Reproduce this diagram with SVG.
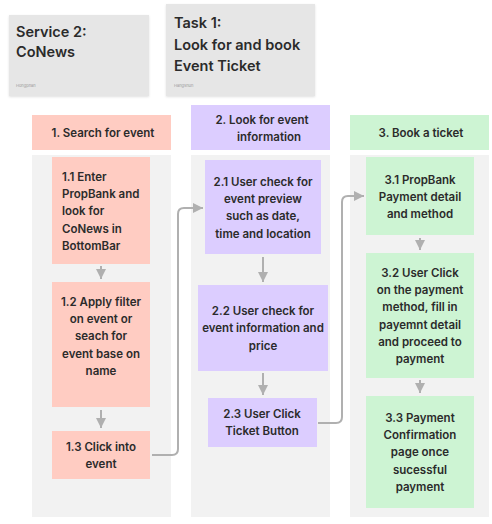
<svg xmlns="http://www.w3.org/2000/svg" width="492" height="524" viewBox="0 0 492 524">
<defs>
<style>
.t{font-family:Inter,"Noto Sans",sans-serif;font-weight:600;font-size:11.5px;fill:#2b2b2b}
.c{text-anchor:middle}
.h{font-family:Inter,"Noto Sans",sans-serif;font-weight:600;font-size:14.5px;fill:#2b2b2b}
.s{font-family:Inter,"Noto Sans",sans-serif;font-size:4px;fill:#999}
.card{fill:#e6e6e6}
.col{fill:#f2f2f2}
.p{fill:#ffccc2}
.v{fill:#dccdff}
.g{fill:#cdf4d3}
.con{fill:none;stroke:#b0b0b0;stroke-width:2}
</style>
<marker id="ah" markerUnits="userSpaceOnUse" markerWidth="12" markerHeight="12" refX="10" refY="6" orient="auto">
<path d="M0,1 L10,6 L0,11 Z" fill="#b0b0b0"/>
</marker>
<filter id="sh" x="-5%" y="-5%" width="110%" height="115%">
<feDropShadow dx="0" dy="1" stdDeviation="0.8" flood-color="#000" flood-opacity="0.12"/>
</filter>
</defs>
<rect width="492" height="524" fill="#ffffff"/>

<g id="card-service">
<rect class="card" x="9" y="15" width="140" height="81" filter="url(#sh)"/>
<text class="h" x="16" y="37">Service 2:</text>
<text class="h" x="16" y="57">CoNews</text>
<text class="s" x="16" y="87">Hongphan</text>
</g>
<g id="card-task">
<rect class="card" x="166" y="4" width="149" height="92" filter="url(#sh)"/>
<text class="h" x="174" y="28">Task 1:</text>
<text class="h" x="174" y="50">Look for and book</text>
<text class="h" x="174" y="71">Event Ticket</text>
<text class="s" x="174" y="87">Hangshun</text>
</g>

<g id="col1">
<rect class="col" x="32" y="155" width="139" height="362"/>
</g>
<g id="col2">
<rect class="col" x="191" y="155" width="139" height="362"/>
</g>
<g id="col3">
<rect class="col" x="350" y="155" width="139" height="362"/>
</g>

<g id="h1">
<rect class="p" x="32" y="115" width="139" height="35"/>
<text class="t c" x="103" y="137">1.  Search for event</text>
</g>
<g id="h2">
<rect class="v" x="191" y="105" width="139" height="45"/>
<text class="t c" x="262" y="124">2.  Look for event</text>
<text class="t c" x="269" y="141">information</text>
</g>
<g id="h3">
<rect class="g" x="350" y="115" width="139" height="35"/>
<text class="t c" x="421" y="137">3.  Book a ticket</text>
</g>

<g id="n11">
<rect class="p" x="52" y="157" width="98" height="107"/>
<text class="t" x="62" y="181">1.1 Enter</text>
<text class="t" x="62" y="198">PropBank and</text>
<text class="t" x="62" y="215">look for</text>
<text class="t" x="62" y="233">CoNews in</text>
<text class="t" x="62" y="250">BottomBar</text>
</g>
<g id="n12">
<rect class="p" x="52" y="282" width="98" height="125"/>
<text class="t c" x="101" y="306">1.2 Apply filter</text>
<text class="t c" x="101" y="323">on event or</text>
<text class="t c" x="101" y="340">seach for</text>
<text class="t c" x="101" y="358">event base on</text>
<text class="t c" x="101" y="375">name</text>
</g>
<g id="n13">
<rect class="p" x="52" y="431" width="98" height="48"/>
<text class="t c" x="101" y="451">1.3 Click into</text>
<text class="t c" x="101" y="468">event</text>
</g>

<g id="n21">
<rect class="v" x="205" y="160" width="116" height="94"/>
<text class="t c" x="263" y="186">2.1 User check for</text>
<text class="t c" x="263" y="203">event preview</text>
<text class="t c" x="263" y="220">such as date,</text>
<text class="t c" x="263" y="238">time and location</text>
</g>
<g id="n22">
<rect class="v" x="198" y="285" width="130" height="86"/>
<text class="t c" x="263" y="315">2.2 User check for</text>
<text class="t c" x="263" y="332">event information and</text>
<text class="t c" x="263" y="350">price</text>
</g>
<g id="n23">
<rect class="v" x="208" y="398" width="109" height="49"/>
<text class="t c" x="262" y="418">2.3 User Click</text>
<text class="t c" x="262" y="435">Ticket Button</text>
</g>

<g id="n31">
<rect class="g" x="366" y="157" width="108" height="78"/>
<text class="t c" x="420" y="184">3.1 PropBank</text>
<text class="t c" x="420" y="201">Payment detail</text>
<text class="t c" x="420" y="218">and method</text>
</g>
<g id="n32">
<rect class="g" x="366" y="253" width="108" height="125"/>
<text class="t c" x="420" y="277">3.2 User Click</text>
<text class="t c" x="420" y="294">on the payment</text>
<text class="t c" x="420" y="311">method, fill in</text>
<text class="t c" x="420" y="329">payemnt detail</text>
<text class="t c" x="420" y="346">and proceed to</text>
<text class="t c" x="420" y="363">payment</text>
</g>
<g id="n33">
<rect class="g" x="366" y="396" width="108" height="112"/>
<text class="t c" x="420" y="422">3.3 Payment</text>
<text class="t c" x="420" y="439">Confirmation</text>
<text class="t c" x="420" y="456">page once</text>
<text class="t c" x="420" y="474">sucessful</text>
<text class="t c" x="420" y="491">payment</text>
</g>

<g id="connectors">
<path class="con" d="M101,266 V279" marker-end="url(#ah)"/>
<path class="con" d="M101,410 V428" marker-end="url(#ah)"/>
<path class="con" d="M263,257 V282" marker-end="url(#ah)"/>
<path class="con" d="M263,373 V395" marker-end="url(#ah)"/>
<path class="con" d="M420,238 V250" marker-end="url(#ah)"/>
<path class="con" d="M420,380 V393" marker-end="url(#ah)"/>
<path class="con" d="M152,455 H172 Q178,455 178,449 V214 Q178,208 184,208 H203" marker-end="url(#ah)"/>
<path class="con" d="M318,423 H336 Q342,423 342,417 V202 Q342,196 348,196 H364" marker-end="url(#ah)"/>
</g>
</svg>
